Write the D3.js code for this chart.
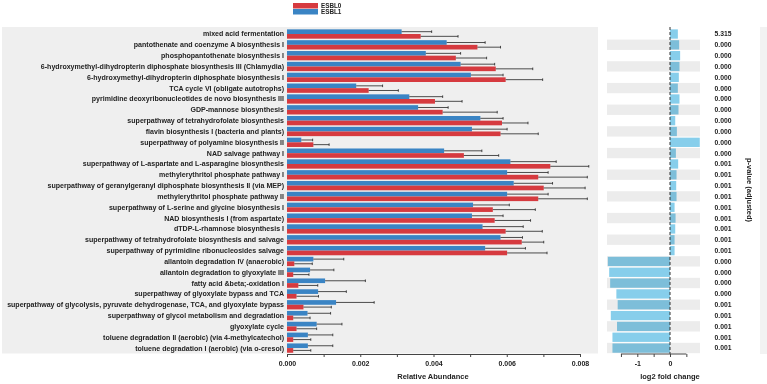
<!DOCTYPE html>
<html><head><meta charset="utf-8">
<script src="https://cdn.jsdelivr.net/npm/d3@7/dist/d3.min.js"></script>
<style>
body{margin:0;background:#fff;}
text{font-family:"Liberation Sans",Arial,sans-serif;font-weight:bold;fill:#222;}
</style></head>
<body><svg id="c" width="767" height="384"></svg>
<script>
const pathways = [
"mixed acid fermentation",
"pantothenate and coenzyme A biosynthesis I",
"phosphopantothenate biosynthesis I",
"6-hydroxymethyl-dihydropterin diphosphate biosynthesis III (Chlamydia)",
"6-hydroxymethyl-dihydropterin diphosphate biosynthesis I",
"TCA cycle VI (obligate autotrophs)",
"pyrimidine deoxyribonucleotides de novo biosynthesis III",
"GDP-mannose biosynthesis",
"superpathway of tetrahydrofolate biosynthesis",
"flavin biosynthesis I (bacteria and plants)",
"superpathway of polyamine biosynthesis II",
"NAD salvage pathway I",
"superpathway of L-aspartate and L-asparagine biosynthesis",
"methylerythritol phosphate pathway I",
"superpathway of geranylgeranyl diphosphate biosynthesis II (via MEP)",
"methylerythritol phosphate pathway II",
"superpathway of L-serine and glycine biosynthesis I",
"NAD biosynthesis I (from aspartate)",
"dTDP-L-rhamnose biosynthesis I",
"superpathway of tetrahydrofolate biosynthesis and salvage",
"superpathway of pyrimidine ribonucleosides salvage",
"allantoin degradation IV (anaerobic)",
"allantoin degradation to glyoxylate III",
"fatty acid &beta;-oxidation I",
"superpathway of glyoxylate bypass and TCA",
"superpathway of glycolysis, pyruvate dehydrogenase, TCA, and glyoxylate bypass",
"superpathway of glycol metabolism and degradation",
"glyoxylate cycle",
"toluene degradation II (aerobic) (via 4-methylcatechol)",
"toluene degradation I (aerobic) (via o-cresol)"
];
const groups = ["ESBL0","ESBL1"];
// mean relative abundance
const esbl0Mean = [0.00365,0.00520,0.00461,0.00570,0.00597,0.00223,0.00404,0.00425,0.00587,0.00583,0.00072,0.00483,0.00719,0.00686,0.00701,0.00686,0.00562,0.00567,0.00597,0.00641,0.00601,0.00020,0.00017,0.00031,0.00026,0.00045,0.00017,0.00026,0.00017,0.00017];
const esbl0Sd   = [0.00102,0.00063,0.00084,0.00101,0.00101,0.00081,0.00074,0.00149,0.00071,0.00103,0.00043,0.00095,0.00105,0.00134,0.00113,0.00134,0.00116,0.00098,0.00100,0.00060,0.00109,0.00049,0.00043,0.00053,0.00060,0.00076,0.00046,0.00055,0.00048,0.00048];
const esbl1Mean = [0.00313,0.00436,0.00379,0.00474,0.00502,0.00189,0.00334,0.00358,0.00528,0.00505,0.00039,0.00429,0.00610,0.00601,0.00619,0.00601,0.00508,0.00505,0.00534,0.00583,0.00541,0.00072,0.00063,0.00104,0.00085,0.00134,0.00056,0.00081,0.00057,0.00057];
const esbl1Sd   = [0.00082,0.00105,0.00095,0.00093,0.00088,0.00072,0.00091,0.00082,0.00062,0.00096,0.00031,0.00103,0.00125,0.00112,0.00106,0.00112,0.00099,0.00085,0.00111,0.00060,0.00110,0.00083,0.00065,0.00110,0.00077,0.00104,0.00063,0.00069,0.00068,0.00068];
const log2fc = [0.24,0.28,0.31,0.29,0.27,0.24,0.29,0.26,0.16,0.21,0.91,0.18,0.25,0.20,0.19,0.20,0.14,0.17,0.16,0.14,0.14,-1.90,-1.86,-1.83,-1.64,-1.60,-1.81,-1.62,-1.76,-1.76];
const pvals = ["5.315","0.000","0.000","0.000","0.000","0.000","0.000","0.000","0.000","0.000","0.000","0.000","0.001","0.001","0.001","0.001","0.001","0.001","0.001","0.001","0.001","0.000","0.000","0.000","0.000","0.001","0.001","0.001","0.001","0.001"];
const abundTicks = [0,0.001,0.002,0.003,0.004,0.005,0.006,0.007,0.008];
const abundLabels = [0,0.002,0.004,0.006,0.008];
const fcTicks = [-1.5,-1,-0.5,0,0.5];
const fcLabels = [-1,0];

const svg = d3.select("#c");
const colors = {ESBL0:"#D63A3F", ESBL1:"#3A84C4"};

const y = d3.scaleBand().domain(pathways).range([28.6,353.5]).paddingInner(0.14).paddingOuter(0.07);
const ySub = d3.scaleBand().domain(["ESBL1","ESBL0"]).range([0,y.bandwidth()]);
const x = d3.scaleLinear().domain([0,0.008]).range([287,580]);
const xf = d3.scaleLinear().domain([-2,1]).range([604.6,702.7]);

// left panel background
svg.append("rect").attr("x",2).attr("y",27).attr("width",596).attr("height",326.5).attr("fill","#efefef");

// labels
const labs = svg.append("g").selectAll("text").data(pathways).join("text")
  .attr("x",284).attr("y",d=>y(d)+y.bandwidth()/2).attr("dy","0.35em")
  .attr("text-anchor","end").attr("font-size",7.4).text(d=>d);
let maxW = 0;
labs.each(function(){ maxW = Math.max(maxW, this.getComputedTextLength()); });
labs.attr("font-size", 7.4*277/maxW);

const rows = pathways.map((p,i)=>({p,i,
  vals:[{g:"ESBL1",m:esbl1Mean[i],s:esbl1Sd[i]},{g:"ESBL0",m:esbl0Mean[i],s:esbl0Sd[i]}]}));

const rg = svg.append("g").selectAll("g").data(rows).join("g")
  .attr("transform",d=>`translate(0,${y(d.p)})`);
rg.selectAll("rect").data(d=>d.vals).join("rect")
  .attr("x",x(0)).attr("y",d=>ySub(d.g)).attr("height",ySub.bandwidth())
  .attr("width",d=>x(d.m)-x(0)).attr("fill",d=>colors[d.g]);
rg.selectAll("line.eb").data(d=>d.vals).join("line").attr("class","eb")
  .attr("x1",d=>x(d.m)).attr("x2",d=>x(d.m+d.s))
  .attr("y1",d=>ySub(d.g)+ySub.bandwidth()/2).attr("y2",d=>ySub(d.g)+ySub.bandwidth()/2)
  .attr("stroke","#222").attr("stroke-width",0.8);
rg.selectAll("line.cap").data(d=>d.vals).join("line").attr("class","cap")
  .attr("x1",d=>x(d.m+d.s)).attr("x2",d=>x(d.m+d.s))
  .attr("y1",d=>ySub(d.g)+ySub.bandwidth()/2-1.3).attr("y2",d=>ySub(d.g)+ySub.bandwidth()/2+1.3)
  .attr("stroke","#222").attr("stroke-width",0.8);

// left axis
const ax = svg.append("g").attr("transform","translate(0,354)")
  .call(d3.axisBottom(x).tickValues(abundTicks).tickSize(3).tickSizeOuter(0)
    .tickFormat(d=>abundLabels.some(v=>Math.abs(v-d)<1e-9)?d3.format(".3f")(d):""));
ax.select(".domain").attr("stroke","#444");
ax.selectAll(".tick line").attr("stroke","#444");
ax.selectAll("text").attr("font-size",7).attr("font-family","Liberation Sans, Arial").attr("font-weight","bold").attr("fill","#222").attr("dy","0.9em");
svg.append("text").attr("x",433).attr("y",379).attr("text-anchor","middle").attr("font-size",7.5).text("Relative Abundance");

// right panel stripes
svg.append("g").selectAll("rect").data(pathways.filter((d,i)=>i%2===1)).join("rect")
  .attr("x",607).attr("width",93).attr("y",d=>y(d)-0.6).attr("height",y.step()-0.5).attr("fill","#ececec");
svg.append("g").selectAll("rect").data(rows).join("rect")
  .attr("x",d=>xf(Math.min(0,log2fc[d.i]))).attr("width",d=>Math.abs(xf(log2fc[d.i])-xf(0)))
  .attr("y",d=>y(d.p)).attr("height",y.bandwidth())
  .attr("fill","#87CEEB").style("mix-blend-mode","multiply");
svg.append("line").attr("x1",xf(0)).attr("x2",xf(0)).attr("y1",27).attr("y2",354)
  .attr("stroke","#333").attr("stroke-width",1).attr("stroke-dasharray","3,2");
const af = svg.append("g").attr("transform","translate(0,354)")
  .call(d3.axisBottom(xf).tickValues(fcTicks).tickSize(3).tickSizeOuter(0)
    .tickFormat(d=>fcLabels.includes(d)?String(d):""));
af.select(".domain").attr("d",`M${xf(-1.5)},0H${xf(0.5)}`).attr("stroke","#444");
af.selectAll(".tick line").attr("stroke","#444");
af.selectAll("text").attr("font-size",7).attr("font-family","Liberation Sans, Arial").attr("font-weight","bold").attr("fill","#222").attr("dy","0.9em");
svg.append("text").attr("x",670).attr("y",379).attr("text-anchor","middle").attr("font-size",7.5).text("log2 fold change");

// p-values
svg.append("g").selectAll("text").data(rows).join("text")
  .attr("x",723).attr("y",d=>y(d.p)+y.bandwidth()/2).attr("dy","0.35em")
  .attr("text-anchor","middle").attr("font-size",6.8).text(d=>pvals[d.i]);
svg.append("rect").attr("x",760).attr("y",27).attr("width",7).attr("height",327).attr("fill","#f2f2f2");
svg.append("text").attr("transform","translate(747,190) rotate(90)").attr("text-anchor","middle")
  .attr("font-size",7.5).text("p-value (adjusted)");

// legend
const lg = svg.append("g").selectAll("g").data(groups).join("g")
  .attr("transform",(d,i)=>`translate(293,${3+i*6})`);
lg.append("rect").attr("width",25).attr("height",5.5).attr("fill",d=>colors[d]);
lg.append("text").attr("x",28).attr("y",3).attr("dy","0.35em").attr("font-size",6.3).text(d=>d);
</script></body></html>
